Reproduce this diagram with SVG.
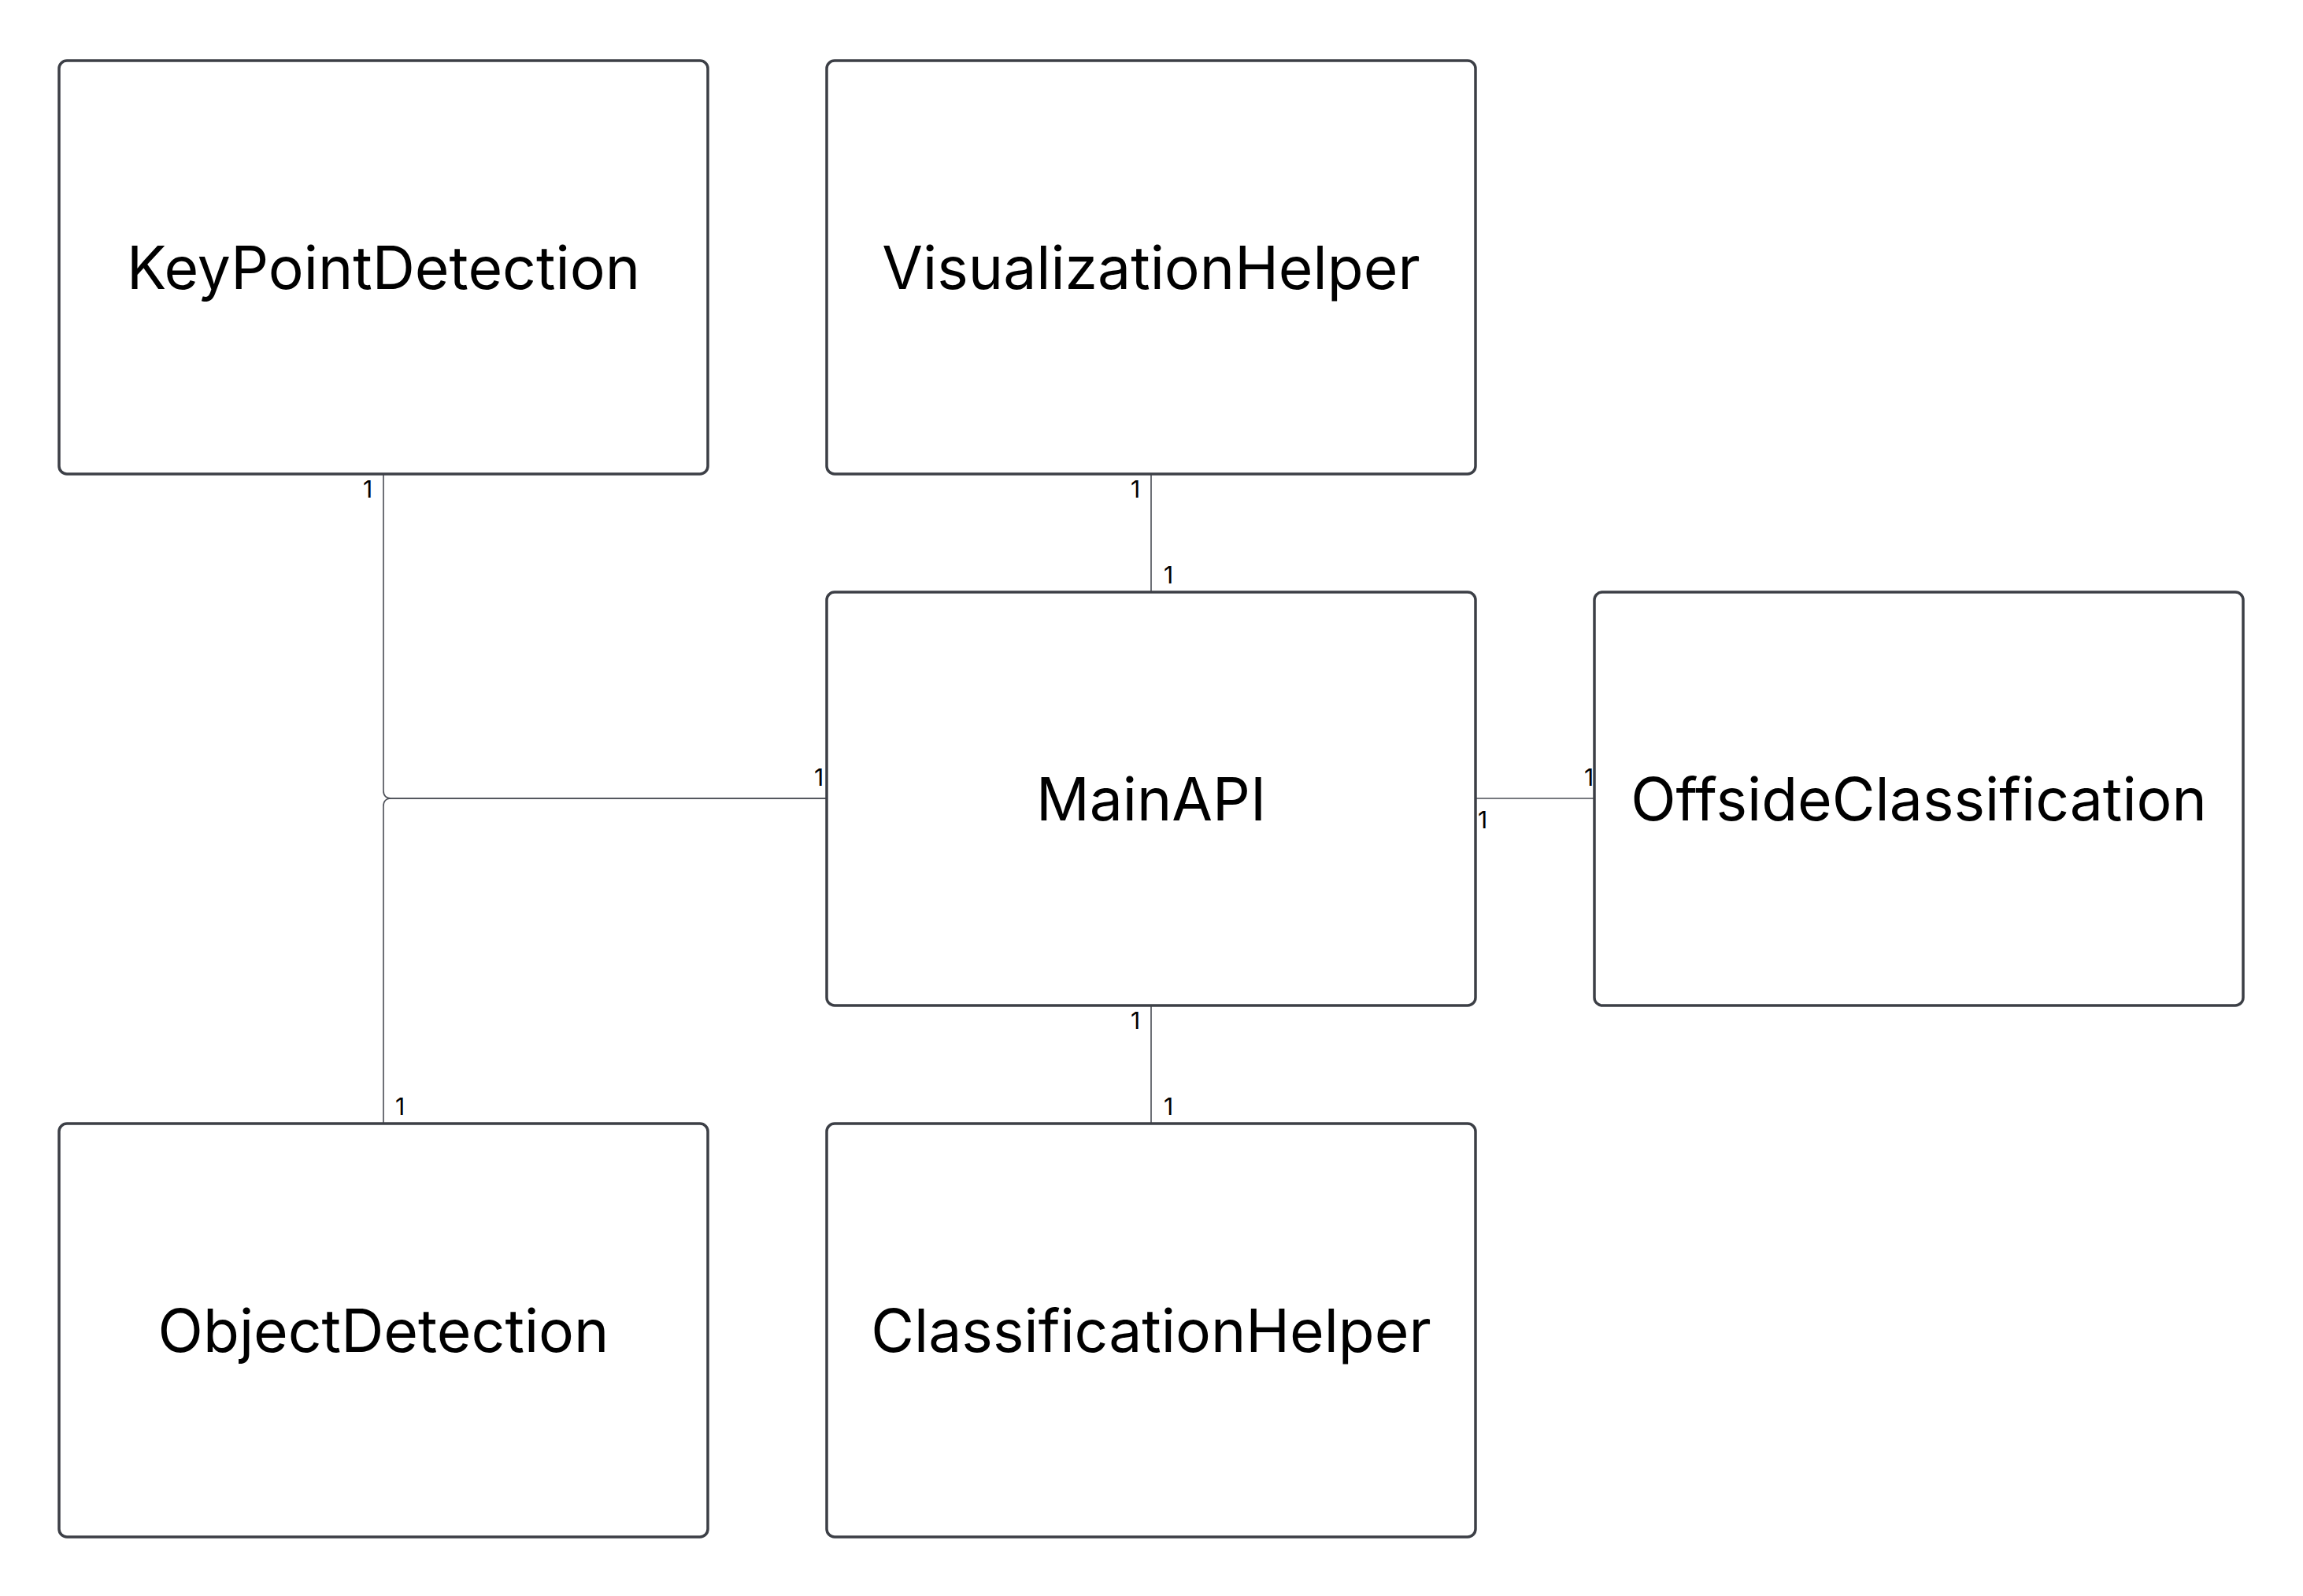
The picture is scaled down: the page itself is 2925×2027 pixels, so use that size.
<svg xmlns="http://www.w3.org/2000/svg" width="2925" height="2027" viewBox="0 0 2925 2027">
<style>
.box{fill:#ffffff;stroke:#3c3f46;stroke-width:3.5}
.name{font-family:Inter,"Noto Sans","Liberation Sans",sans-serif;font-size:75px;fill:#000000;text-anchor:middle}
.edge{fill:none;stroke:#4a4d55;stroke-width:1.6}
.card{font-family:Inter,"Noto Sans","Liberation Sans",sans-serif;font-size:30px;fill:#000000;text-anchor:middle}
</style>
<rect width="2925" height="2027" fill="#ffffff"/>
<g id="connectors">
<path class="edge" d="M487,602 L487,1004 Q487,1014 497,1014 L1050,1014"/>
<path class="edge" d="M487,1427 L487,1024 Q487,1014 497,1014 L1050,1014"/>
<path class="edge" d="M1462,602 L1462,752"/>
<path class="edge" d="M1874,1014 L2025,1014"/>
<path class="edge" d="M1462,1277 L1462,1427"/>
<text class="card" x="467" y="632">1</text>
<text class="card" x="1040" y="998">1</text>
<text class="card" x="1442" y="632">1</text>
<text class="card" x="1484" y="741">1</text>
<text class="card" x="1883" y="1052">1</text>
<text class="card" x="2018" y="998">1</text>
<text class="card" x="1442" y="1307">1</text>
<text class="card" x="1484" y="1416">1</text>
<text class="card" x="508" y="1416">1</text>
</g>
<g id="KeyPointDetection">
<rect class="box" x="75" y="77" width="824" height="525" rx="10"/>
<text class="name" x="487" y="367">KeyPointDetection</text>
</g>
<g id="VisualizationHelper">
<rect class="box" x="1050" y="77" width="824" height="525" rx="10"/>
<text class="name" x="1462" y="367">VisualizationHelper</text>
</g>
<g id="MainAPI">
<rect class="box" x="1050" y="752" width="824" height="525" rx="10"/>
<text class="name" x="1462" y="1042">MainAPI</text>
</g>
<g id="OffsideClassification">
<rect class="box" x="2025" y="752" width="824" height="525" rx="10"/>
<text class="name" x="2437" y="1042">OffsideClassification</text>
</g>
<g id="ObjectDetection">
<rect class="box" x="75" y="1427" width="824" height="525" rx="10"/>
<text class="name" x="487" y="1717">ObjectDetection</text>
</g>
<g id="ClassificationHelper">
<rect class="box" x="1050" y="1427" width="824" height="525" rx="10"/>
<text class="name" x="1462" y="1717">ClassificationHelper</text>
</g>
</svg>
